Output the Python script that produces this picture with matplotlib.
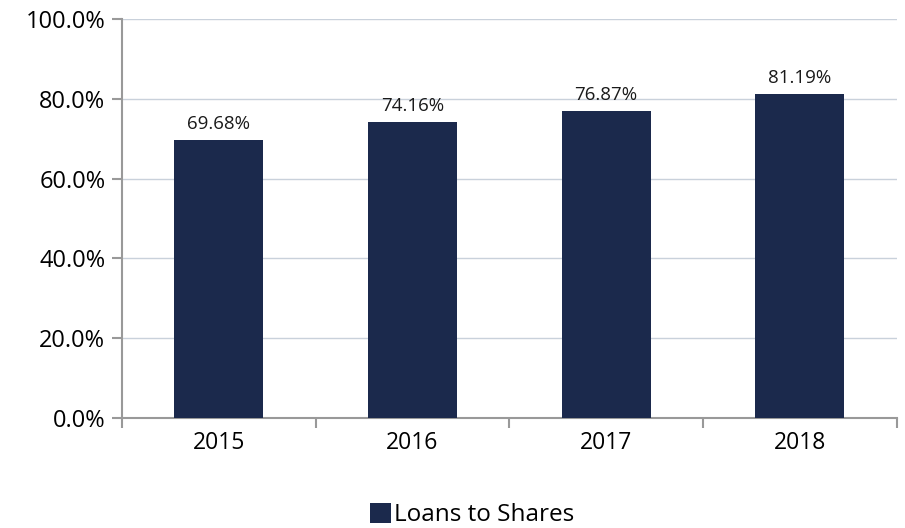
import matplotlib.pyplot as plt
import numpy as np

years = ['2015', '2016', '2017', '2018']
loans_to_shares = [69.68, 74.16, 76.87, 81.19]
y_ticks = [0, 20, 40, 60, 80, 100]

plt.rcParams['font.family'] = ['Open Sans', 'DejaVu Sans']

fig = plt.figure(figsize=(9.05, 5.28), dpi=100)
ax = fig.add_axes([0.1348, 0.2083, 0.856, 0.7557])

x = np.arange(len(years))
bar_color = '#1b294c'
bars = ax.bar(x, loans_to_shares, width=0.46, color=bar_color, zorder=3, label='Loans to Shares')

# value labels above each bar
for rect, v in zip(bars, loans_to_shares):
    ax.text(rect.get_x() + rect.get_width() / 2, v + 1.8, f'{v:.2f}%',
            ha='center', va='bottom', fontsize=13.5, color='#1a1a1a')

ax.set_xlim(-0.5, len(years) - 0.5)
ax.set_ylim(0, 100)
ax.set_yticks(y_ticks)
ax.set_yticklabels([f'{t:.1f}%' for t in y_ticks], fontsize=17)
ax.yaxis.grid(True, color='#c9d1db', linewidth=1, zorder=0)

# ticks at category boundaries, labels at centres
ax.set_xticks(np.arange(len(years) + 1) - 0.5)
ax.set_xticklabels([])
ax.set_xticks(x, minor=True)
ax.set_xticklabels(years, minor=True, fontsize=16.5)
ax.tick_params(axis='x', which='minor', length=0, pad=9)
ax.tick_params(axis='x', which='major', length=7, color='#999999', width=1.5)
ax.tick_params(axis='y', length=7, color='#999999', width=1.5, pad=5)

for side in ['top', 'right']:
    ax.spines[side].set_visible(False)
for side in ['left', 'bottom']:
    ax.spines[side].set_color('#999999')
    ax.spines[side].set_linewidth(1.5)

fig.legend(handles=[bars], labels=['Loans to Shares'], loc='lower center',
           bbox_to_anchor=(0.522, -0.04), frameon=False, fontsize=17.5,
           handlelength=0.85, handleheight=0.85, handletextpad=0.15)

fig.savefig('out.png', dpi=100)
